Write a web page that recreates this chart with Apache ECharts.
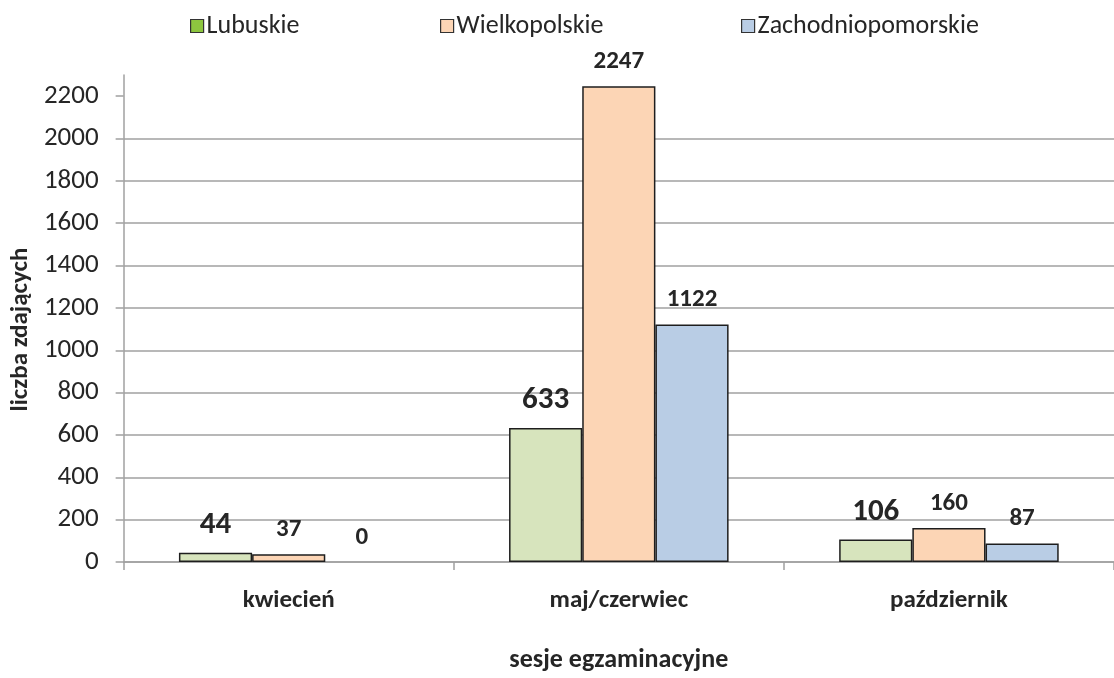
<!DOCTYPE html>
<html>
<head>
<meta charset="utf-8">
<script src="https://cdn.jsdelivr.net/npm/echarts@6/dist/echarts.min.js"></script>
<style>
  html, body { margin: 0; padding: 0; background: #fff; }
  #chart { width: 1114px; height: 678px; }
</style>
</head>
<body>
<div id="chart"></div>
<script>
// dane z wykresu
var categories = ['kwiecień', 'maj/czerwiec', 'październik'];
var lubuskie = [44, 633, 106];
var wielkopolskie = [37, 2247, 160];
var zachodniopomorskie = [0, 1122, 87];
var yTicks = [0, 200, 400, 600, 800, 1000, 1200, 1400, 1600, 1800, 2000, 2200];

var FONT = 'Carlito, Lato, "Noto Sans", sans-serif';
var TXT = '#262626';
var GRID = '#a0a0a0';

var chart = echarts.init(document.getElementById('chart'));

function legendAt(left, name, iconColor) {
  return {
    left: left,
    top: 13,
    padding: 0,
    itemWidth: 13,
    itemHeight: 13,
    itemGap: 0,
    icon: 'rect',
    textStyle: { fontFamily: FONT, fontSize: 26, color: TXT, padding: [0, 0, 0, -2] },
    data: [{ name: name, itemStyle: { color: iconColor, borderColor: '#333', borderWidth: 1.2 } }]
  };
}

function barSeries(name, data, color, labelSize) {
  // slupek o wartosci 0 bez obramowania (jak w oryginale)
  var items = data.map(function (v) {
    return v === 0 ? { value: v, itemStyle: { borderWidth: 0 } } : v;
  });
  return {
    name: name,
    type: 'bar',
    data: items,
    barGap: '0%',
    barCategoryGap: '33.5%',
    itemStyle: { color: color, borderColor: '#1e1e1e', borderWidth: 1.5 },
    label: {
      show: true,
      position: 'top',
      distance: 12,
      fontFamily: FONT,
      fontWeight: 'bold',
      fontSize: labelSize,
      color: TXT
    }
  };
}

var option = {
  animation: false,
  backgroundColor: '#fff',
  legend: [
    legendAt(190, 'Lubuskie', '#8dc63f'),
    legendAt(440, 'Wielkopolskie', '#fcd5b5'),
    legendAt(741, 'Zachodniopomorskie', '#b9cde5')
  ],
  grid: { left: 123, top: 75, width: 998, height: 495, containLabel: false },
  xAxis: {
    type: 'category',
    data: categories,
    boundaryGap: true,
    name: 'sesje egzaminacyjne',
    nameLocation: 'middle',
    nameGap: 85,
    nameTextStyle: { fontFamily: FONT, fontWeight: 'bold', fontSize: 26, color: TXT },
    axisLine: { show: true, lineStyle: { color: GRID, width: 1.5 } },
    axisTick: { show: true, length: 8, alignWithLabel: false, lineStyle: { color: GRID, width: 1.5 } },
    axisLabel: { margin: 26, fontFamily: FONT, fontWeight: 'bold', fontSize: 25, color: TXT },
    splitLine: { show: false }
  },
  yAxis: {
    type: 'value',
    min: 0,
    max: 2300,
    interval: 200,
    name: 'liczba zdających',
    nameLocation: 'middle',
    nameGap: 87,
    nameRotate: 90,
    nameTextStyle: { fontFamily: FONT, fontWeight: 'bold', fontSize: 25, color: TXT, padding: [0, 22, 0, 0] },
    axisLine: { show: true, lineStyle: { color: GRID, width: 1.5 } },
    axisTick: { show: true, length: 8, customValues: yTicks, lineStyle: { color: GRID, width: 1.5 } },
    axisLabel: {
      margin: 25,
      customValues: yTicks,
      formatter: function (v) { return String(v); },
      fontFamily: FONT,
      fontSize: 27,
      color: TXT
    },
    splitLine: { show: true, showMaxLine: false, lineStyle: { color: GRID, width: 1.5 } }
  },
  series: [
    barSeries('Lubuskie', lubuskie, '#d7e4bd', 31),
    barSeries('Wielkopolskie', wielkopolskie, '#fcd5b5', 25),
    barSeries('Zachodniopomorskie', zachodniopomorskie, '#b9cde5', 25)
  ]
};

chart.setOption(option);
</script>
</body>
</html>
